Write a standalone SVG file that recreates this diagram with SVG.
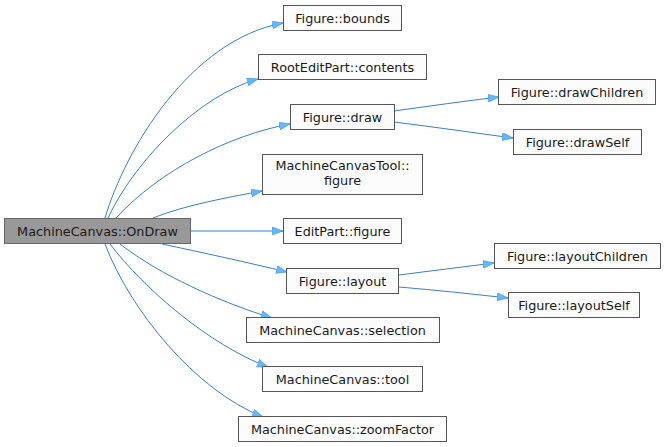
<svg xmlns="http://www.w3.org/2000/svg" width="665" height="447" viewBox="0 0 665 447">
<style>
.n rect{fill:#fbfcfb;stroke:#555;stroke-width:1}
.n text{font-family:"DejaVu Sans",sans-serif;font-size:12.8px;fill:#1a1a1a;text-anchor:middle}
#main rect{fill:#999999;stroke:#666}
.e path{fill:none;stroke:#3580c8;stroke-width:1}
</style>
<defs>
<marker id="a" markerUnits="userSpaceOnUse" markerWidth="12" markerHeight="10" refX="11" refY="4" orient="auto">
<path d="M0,0 L11,4 L0,8 Z" fill="#63b8ff" stroke="#3f8fd8" stroke-width="0.6"/>
</marker>
</defs>
<rect width="665" height="447" fill="#fff"/>
<g class="e">
<path d="M105,218 C125,150 190,40 283,23" marker-end="url(#a)"/>
<path d="M108,218 C135,160 200,95 258,79" marker-end="url(#a)"/>
<path d="M116,218 C160,170 230,135 290,124" marker-end="url(#a)"/>
<path d="M153,218 C185,205 230,197 262,191" marker-end="url(#a)"/>
<path d="M191,231 L283,231" marker-end="url(#a)"/>
<path d="M162,244 C200,252 250,263 287,272" marker-end="url(#a)"/>
<path d="M120,244 C160,275 220,302 272,318" marker-end="url(#a)"/>
<path d="M110,244 C145,290 210,345 268,367" marker-end="url(#a)"/>
<path d="M105,244 C130,310 195,390 263,417" marker-end="url(#a)"/>
<path d="M394,111 C430,106 465,101 499,97" marker-end="url(#a)"/>
<path d="M394,122 C435,127 475,133 513,138" marker-end="url(#a)"/>
<path d="M399,275 C430,271 462,267 494,263" marker-end="url(#a)"/>
<path d="M399,287 C435,290 472,294 508,298" marker-end="url(#a)"/>
</g>
<g id="main" class="n"><rect x="4.5" y="218.5" width="186" height="25"/><text x="97.5" y="235.5">MachineCanvas::OnDraw</text></g>
<g id="bounds" class="n"><rect x="283.5" y="5.5" width="118" height="25"/><text x="342.5" y="22.5">Figure::bounds</text></g>
<g id="contents" class="n"><rect x="258.5" y="54.5" width="168" height="25"/><text x="342.5" y="71.5">RootEditPart::contents</text></g>
<g id="draw" class="n"><rect x="290.5" y="104.5" width="104" height="25"/><text x="342.5" y="121.5">Figure::draw</text></g>
<g id="toolfigure" class="n"><rect x="262.5" y="154.5" width="160" height="40"/><text x="342.5" y="170">MachineCanvasTool::</text><text x="342.5" y="185">figure</text></g>
<g id="editfigure" class="n"><rect x="283.5" y="218.5" width="118" height="25"/><text x="342.5" y="235.5">EditPart::figure</text></g>
<g id="layout" class="n"><rect x="286.5" y="268.5" width="112" height="25"/><text x="342.5" y="285.5">Figure::layout</text></g>
<g id="selection" class="n"><rect x="246.5" y="317.5" width="193" height="25"/><text x="342.5" y="334.5">MachineCanvas::selection</text></g>
<g id="tool" class="n"><rect x="262.5" y="366.5" width="160" height="25"/><text x="342.5" y="383.5">MachineCanvas::tool</text></g>
<g id="zoom" class="n"><rect x="238.5" y="416.5" width="208" height="25"/><text x="342.5" y="433.5">MachineCanvas::zoomFactor</text></g>
<g id="drawChildren" class="n"><rect x="498.5" y="79.5" width="157" height="25"/><text x="577" y="96.5">Figure::drawChildren</text></g>
<g id="drawSelf" class="n"><rect x="513.5" y="129.5" width="128" height="25"/><text x="577.5" y="146.5">Figure::drawSelf</text></g>
<g id="layoutChildren" class="n"><rect x="494.5" y="243.5" width="166" height="25"/><text x="577.5" y="260.5">Figure::layoutChildren</text></g>
<g id="layoutSelf" class="n"><rect x="508.5" y="292.5" width="131" height="25"/><text x="574" y="309.5">Figure::layoutSelf</text></g>
</svg>
